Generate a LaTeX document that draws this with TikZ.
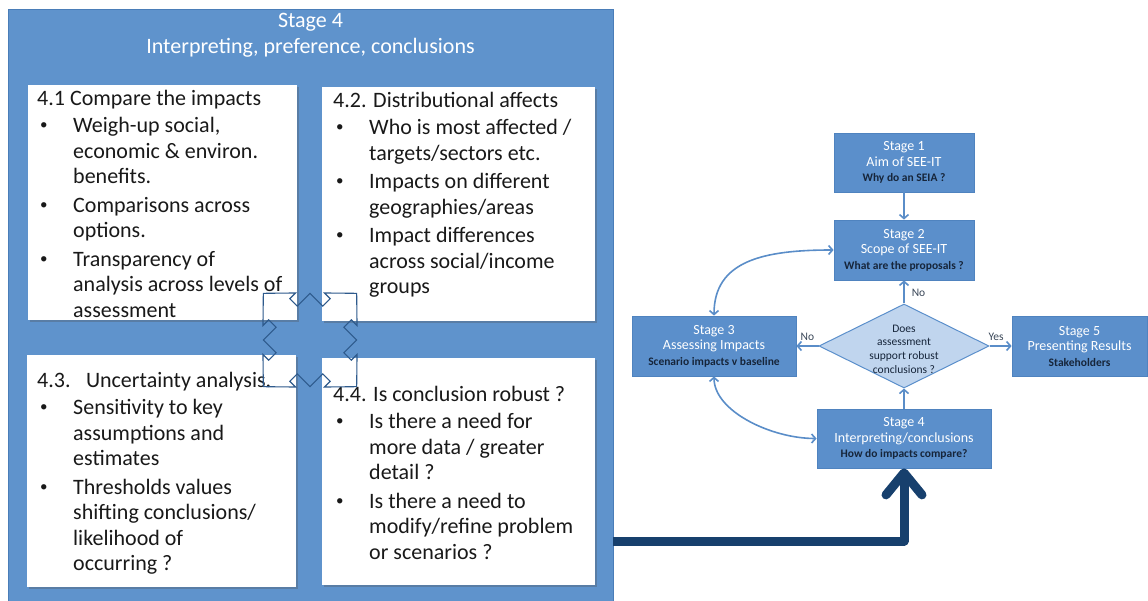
\documentclass[tikz,border=0pt]{standalone}
\usepackage{fontspec}
\setmainfont{Carlito}
\usetikzlibrary{shapes.geometric,arrows.meta,shadows}
\definecolor{panelblue}{HTML}{5F93CC}
\definecolor{paneledge}{HTML}{4A7DB8}
\definecolor{boxblue}{HTML}{5B8FCB}
\definecolor{boxedge}{HTML}{4F83BF}
\definecolor{dialight}{HTML}{C0D5EE}
\definecolor{arrowblue}{HTML}{5A8DC8}
\definecolor{navyline}{HTML}{17406D}
\definecolor{darktext}{HTML}{16253A}
\definecolor{crosscol}{HTML}{2E5A8C}
\newcommand{\bl}[1]{\makebox[36pt][l]{\hspace{3pt}\raisebox{3pt}{\fontsize{15}{15}\selectfont •}}#1}
\newcommand{\cl}[1]{\hspace*{36pt}#1}
\newcommand{\subl}[1]{{\color{darktext}\bfseries\fontsize{11.5}{15.5}\selectfont #1}}
\begin{document}
\begin{tikzpicture}[x=1pt,y=-1pt,
  panel/.style={rectangle, fill=panelblue, draw=paneledge, line width=1pt, inner sep=0pt},
  wbox/.style={rectangle, fill=white, draw=none, inner sep=0pt,
    drop shadow={shadow xshift=1.5pt, shadow yshift=-1.5pt, opacity=0.3, fill=black!70}},
  btext/.style={anchor=north west, inner sep=0pt, align=left, font=\fontsize{22}{25.5}\selectfont, text=black!90},
  ptitle/.style={inner sep=0pt, align=center, font=\fontsize{22}{26}\selectfont, text=white},
  fbox/.style={rectangle, fill=boxblue, draw=boxedge, line width=0.8pt, inner sep=0pt, align=center, text=white, font=\fontsize{14}{15.5}\selectfont},
  dbox/.style={diamond, fill=dialight, draw=boxblue, line width=1pt, inner sep=0pt, minimum width=170pt, minimum height=84pt},
  dtext/.style={inner sep=0pt, align=center, text=darktext, font=\fontsize{11.5}{13.7}\selectfont},
  lbl/.style={font=\fontsize{11.5}{13}\selectfont, text=darktext!85, inner sep=2pt},
  farrow/.style={draw=arrowblue, line width=1.6pt, -{Straight Barb[length=4pt,width=9pt]}},
  farrow2/.style={draw=arrowblue, line width=1.6pt, {Straight Barb[length=4pt,width=9pt]}-{Straight Barb[length=4pt,width=9pt]}},
  navyarrow/.style={draw=navyline, line width=9pt, line join=round, -{Straight Barb[length=22pt,width=36pt,round]}},
  crossline/.style={draw=crosscol, line width=1.1pt, line join=miter}]
\useasboundingbox (0,0) rectangle (1148,601);
\clip (0,0) rectangle (1148,601);

% big panel
\node[panel, anchor=north west, minimum width=605pt, minimum height=610pt] (panel) at (8,9) {};
\node[ptitle, anchor=north] (title) at (310.5,8.8) {\strut Stage 4\\Interpreting, preference, conclusions};

% white boxes
\node[wbox, minimum width=269pt, minimum height=235pt, anchor=north west] (b41) at (28,85) {};
\node[wbox, minimum width=273pt, minimum height=234pt, anchor=north west] (b42) at (322,87) {};
\node[wbox, minimum width=269pt, minimum height=232pt, anchor=north west] (b43) at (27,355) {};
\node[wbox, minimum width=273pt, minimum height=227pt, anchor=north west] (b44) at (322,358) {};

\node[btext] (t41) at (37,87.2) {\strut 4.1 Compare the impacts\\[2pt]
\bl{Weigh-up social,}\\
\cl{economic \& environ.}\\
\cl{benefits.}\\[3pt]
\bl{Comparisons across}\\
\cl{options.}\\[3pt]
\bl{Transparency of}\\
\cl{analysis across levels of}\\
\cl{assessment}};

\node[btext] (t42) at (333,89.2) {\strut 4.2. Distributional affects\\[2pt]
\bl{Who is most affected /}\\
\cl{targets/sectors etc.}\\[3pt]
\bl{Impacts on different}\\
\cl{geographies/areas}\\[3pt]
\bl{Impact differences}\\
\cl{across social/income}\\
\cl{groups}};

\node[btext] (t43) at (37,369.2) {\strut 4.3.\hspace{0.4em} Uncertainty analysis.\\[2pt]
\bl{Sensitivity to key}\\
\cl{assumptions and}\\
\cl{estimates}\\[3pt]
\bl{Thresholds values}\\
\cl{shifting conclusions/}\\
\cl{likelihood of}\\
\cl{occurring ?}};

\node[btext] (t44) at (333,383.2) {\strut 4.4. Is conclusion robust ?\\[2pt]
\bl{Is there a need for}\\
\cl{more data / greater}\\
\cl{detail ?}\\[3pt]
\bl{Is there a need to}\\
\cl{modify/refine problem}\\
\cl{or scenarios ?}};

% cross outline (quad arrow rotated 45 degrees)
\begin{scope}[shift={(310,340)}, rotate=45]
\draw[crossline] (33,-15) -- (43.5,-15) -- (43.5,-23) -- (66,0) -- (43.5,23) -- (43.5,15) -- (33,15)
  -- (33,33) -- (15,33) -- (15,43.5) -- (23,43.5) -- (0,66) -- (-23,43.5) -- (-15,43.5) -- (-15,33)
  -- (-33,33) -- (-33,15) -- (-43.5,15) -- (-43.5,23) -- (-66,0) -- (-43.5,-23) -- (-43.5,-15) -- (-33,-15)
  -- (-33,-33) -- (-15,-33) -- (-15,-43.5) -- (-23,-43.5) -- (0,-66) -- (23,-43.5) -- (15,-43.5) -- (15,-33)
  -- (33,-33) -- cycle;
\end{scope}

% flowchart
\node[fbox, minimum width=140pt, minimum height=59pt] (s1) at (904,162.5) {Stage 1\\Aim of SEE-IT\\\subl{Why do an SEIA ?}};
\node[fbox, minimum width=140pt, minimum height=60pt] (s2) at (904,250) {Stage 2\\Scope of SEE-IT\\\subl{What are the proposals ?}};
\node[fbox, minimum width=164pt, minimum height=60pt] (s3) at (714,346) {Stage 3\\Assessing Impacts\\\subl{Scenario impacts v baseline}};
\node[fbox, minimum width=135pt, minimum height=60pt] (s5) at (1079.5,346) {Stage 5\\Presenting Results\\\subl{Stakeholders}};
\node[fbox, minimum width=174pt, minimum height=59pt] (s4) at (904,438.5) {Stage 4\\Interpreting/conclusions\\\subl{How do impacts compare?}};
\node[dbox] (dia) at (904,346) {};
\node[dtext] (diat) at (904,349) {Does\\assessment\\support robust\\conclusions ?};

\draw[farrow] (s1.south) -- (s2.north);
\draw[farrow] (dia.north) -- node[lbl, right, pos=0.45, xshift=5pt] (lno1) {No} (s2.south);
\draw[farrow] (dia.west) -- node[lbl, above, pos=0.5, yshift=3pt] (lno2) {No} (s3.east);
\draw[farrow] (dia.east) -- node[lbl, above, pos=0.3, yshift=3pt] (lyes) {Yes} (s5.west);
\draw[farrow] (s4.north) -- (dia.south);
\draw[farrow2] (s3.north) .. controls +(0,-55) and +(-70,0) .. (s2.west);
\draw[farrow2] (s3.south) .. controls +(0,35) and +(-45,0) .. (s4.west);

% thick connector from panel to stage 4
\coordinate (pout) at (613,541);
\draw[navyarrow] (pout) -| (s4.south);
\end{tikzpicture}
\end{document}
